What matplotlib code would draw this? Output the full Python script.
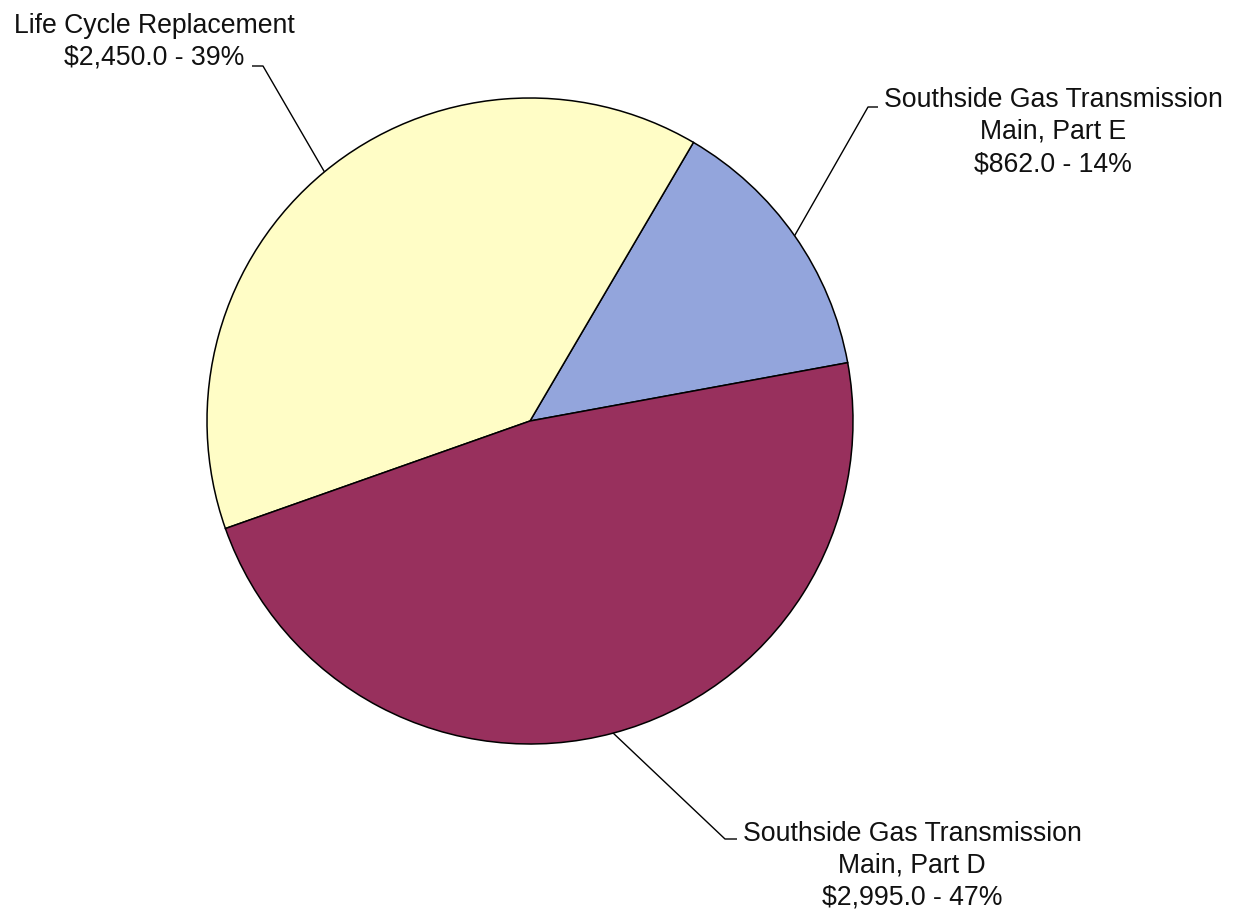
import numpy as np
import matplotlib
matplotlib.use("Agg")
import matplotlib.pyplot as plt

# Capital spending by project ($ thousands)
projects = [
    "Southside Gas Transmission\nMain, Part E",
    "Life Cycle Replacement",
    "Southside Gas Transmission\nMain, Part D",
]
amounts = [862.0, 2450.0, 2995.0]
colors = ["#93A5DC", "#FFFDC6", "#98305D"]

W, H = 1233, 910
fig = plt.figure(figsize=(W / 100, H / 100), dpi=100)
ax = fig.add_axes([0, 0, 1, 1])

cx, cy, r = 530, H - 421, 323
wedges, _ = ax.pie(amounts, colors=colors, startangle=10.4, counterclock=True,
                   center=(cx, cy), radius=r, frame=True,
                   wedgeprops=dict(edgecolor="black", linewidth=1.1))
ax.set_xlim(0, W)
ax.set_ylim(0, H)
ax.set_aspect("equal")
ax.axis("off")

total = sum(amounts)
plt.rcParams["font.family"] = ["Liberation Sans", "DejaVu Sans"]

# label layout: (elbow point, elbow end, text centre x, text top y)
layout = [
    ((868, 107), (878, 107), 1053, 87),   # Part E
    ((263, 66), (252, 66), 154, 13),      # Life Cycle
    ((725, 839), (737, 839), 912, 821),   # Part D
]

for w, name, amt, (elb, end, tx, ty) in zip(wedges, projects, amounts, layout):
    mid = np.deg2rad((w.theta1 + w.theta2) / 2)
    ex, ey = cx + r * np.cos(mid), cy + r * np.sin(mid)
    ax.plot([ex, elb[0], end[0]], [ey, H - elb[1], H - end[1]],
            color="black", linewidth=1.0, solid_capstyle="butt")
    pct = round(100 * amt / total)
    label = f"{name}\n${amt:,.1f} - {pct}%"
    ax.text(tx, H - ty, label, ha="center", va="top", fontsize=19.2,
            linespacing=1.3, color="#111111")

fig.savefig("out.png", dpi=100, facecolor="white")
